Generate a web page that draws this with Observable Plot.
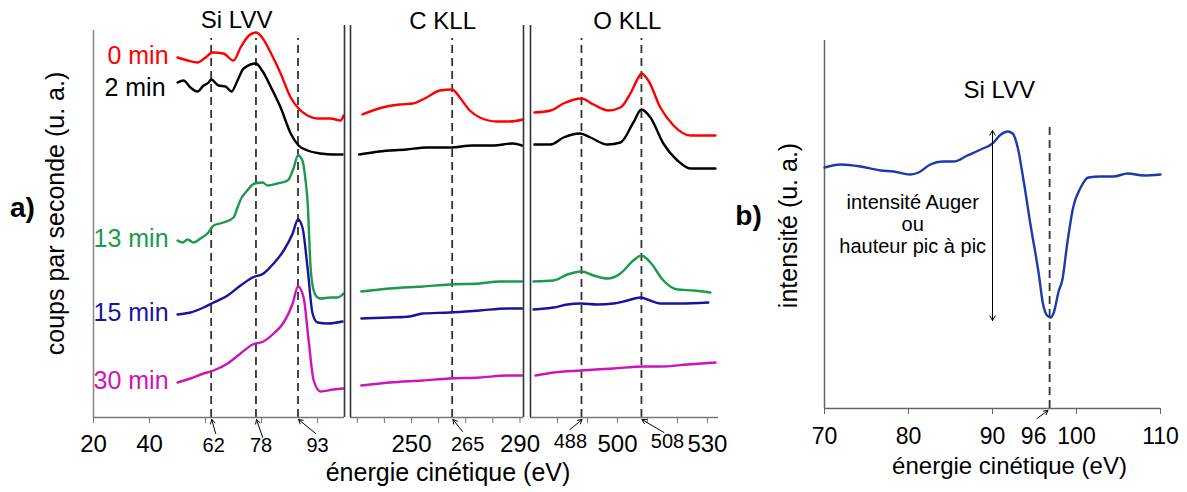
<!DOCTYPE html>
<html><head><meta charset="utf-8">
<script src="https://cdn.jsdelivr.net/npm/d3@7"></script>
<script src="https://cdn.jsdelivr.net/npm/@observablehq/plot@0.6"></script>
<style>
body{margin:0;background:#fff;}
#c{position:relative;width:1187px;height:492px;background:#fff;}
#c svg{position:absolute;left:0;top:0;}
</style></head><body><div id="c"></div>
<script>
// ---------- series ----------
const seriesNames = ["0 min", "2 min", "13 min", "15 min", "30 min"];
const seriesColors = ["#ff0000", "#000000", "#1a9a4a", "#15159e", "#cc14b8"];

// Si LVV region  [énergie (eV), coups (u. a.)]
const si0 = [[50,360],[53.6,357],[57.1,355],[60,360],[62.5,365],[66.4,364],[70,357],[72.5,370],[75.5,382],[78,385],[80.2,380],[83.4,364],[86.8,344],[90.4,320],[93.2,309],[96.4,302],[100,299],[104.6,299],[108.2,297],[109.3,302]];
const si2 = [[50,335],[52.1,337],[54.6,330],[57.1,326],[59.3,332],[61.1,335],[62,338],[64.6,332],[67.1,331],[69.3,326],[71.4,337],[73.6,349],[78,354],[80.2,347],[83.4,330],[86.8,310],[90.4,284],[93.2,272],[96.4,267],[101.1,264],[105.7,263],[108.9,263]];
const si13 = [[50,177],[51.8,175],[53.6,178],[55.7,175],[58.2,179],[60.7,184],[62.9,192],[66.4,195],[70,200],[71.4,210],[72.9,220],[74.3,225],[77.5,234],[80.4,235],[82.1,232],[85.7,234],[89.3,237],[91.4,249],[93,262],[94.6,257],[95.7,237],[96.4,217],[97.5,150],[98.6,127],[100,120],[101.1,119],[104.6,120],[107.1,120],[109.3,124]];
const si15 = [[50,103],[54.6,105],[59.3,110],[62.9,115],[67.9,122],[72.5,132],[76.8,140],[80.7,144],[84.3,154],[87.9,167],[91.1,184],[93,198],[94.6,190],[96.4,150],[98.2,104],[100,95],[103.6,94],[108.9,96]];
const si30 = [[50,35],[54.6,39],[59.3,44],[62.9,47],[67.9,54],[72.5,64],[76.8,73],[80.7,76],[84.3,84],[87.9,95],[91.1,114],[93,131],[95,120],[96.8,77],[98.6,37],[101.1,26],[105.7,28],[109.3,29]];

// C KLL region
const c0 = [[231.9,303],[239.3,310],[245.6,313],[250.4,314],[255.6,320],[260.4,327],[265,328],[267.8,320],[271.5,307],[275.2,300],[281.5,296],[286.3,296],[291.1,298]];
const c2 = [[230.7,263],[238.1,266],[248.1,268],[255.6,270],[264.1,270],[272.6,272],[280,272],[287.4,274],[290.7,272]];
const c13 = [[231.5,126],[241.9,129],[254.1,131],[264.1,133],[275.2,134],[282.6,136],[290.7,136]];
const c15 = [[231.5,99],[241.9,100],[249.3,101],[254.1,104],[264.1,105],[275.2,107],[285.2,109],[290.7,109]];
const c30 = [[231.5,32],[241.9,35],[254.1,37],[264.1,39],[275.2,40],[285.2,42],[290.7,42]];

// O KLL region
const o0 = [[472.3,305],[477.7,307],[482,314],[488,319],[492,313],[497,307],[501,310],[504.3,324],[507,340],[508,344],[510.3,337],[514.3,310],[518.7,292],[524.3,282],[528.3,282],[532.7,282]];
const o2 = [[472.3,273],[477.7,273],[482,280],[487.5,284],[491,280],[496.7,273],[501,275],[505.3,295],[508,308],[511,300],[515.3,274],[520,257],[524.3,249],[528.7,249],[532.7,249]];
const o13 = [[472,136],[478.7,137],[483.3,143],[488,146],[492,142],[496.7,139],[501,144],[505.3,157],[508,162],[511,155],[515.3,137],[520,128],[525.3,127],[531,125]];
const o15 = [[472,108],[478.7,110],[483.3,113],[487.7,114],[493.3,113],[498.7,114],[503.3,117],[507.7,120],[510,118],[514.3,114],[521,114],[530.3,115]];
const o30 = [[472.7,42],[478.7,45],[487.7,47],[498.7,49],[508.7,51],[514.3,51],[523.3,53],[532.7,55]];

// peak markers and tick labels
const siLines = [62, 78, 93];
const cLines = [265];
const oLines = [488, 508];
const siTicks = [20, 40, 60, 80, 100], siTickLabels = [20, 40];
const cTicks = [230, 240, 250, 260, 270, 280, 290], cTickLabels = [250, 290];
const oTicks = [480, 490, 500, 510, 520, 530], oTickLabels = [500, 530];

// panel b : dérivée Si LVV
const bSpectrum = [[70,241],[71.9,244],[74.3,242],[76.7,238],[78.2,237],[80.2,234],[81.2,236],[82.6,244],[84,247],[85.4,247],[87,253],[88.6,259],[90,265],[91,274],[91.8,277],[92.4,275],[93,261],[93.7,228],[94.5,185],[95.5,135],[96,105],[96.5,93],[96.9,91],[97.3,96],[97.9,118],[98.3,128],[98.9,165],[99.6,201],[100.5,221],[101.4,231],[102.9,232],[104.4,232],[106.1,235],[108,233],[110,234]];
const bTicks = [70, 80, 90, 100, 110];
const bLine = [96.8];
const bLineLabel = "96";
const bArrowX = 90;

const W = 1187, H = 492;
const FONT = "'Liberation Sans', Arial, sans-serif";
const baseStyle = {background: "transparent", fontFamily: FONT, overflow: "visible", color: "black"};
const container = document.getElementById("c");

function rowsOf(list) {
  return list.flatMap((s, i) => s.map(([x, y]) => ({x, y, name: seriesNames[i]})));
}

function segment({domain, left, right, series, lines, ticks, tickLabels, extra}) {
  return Plot.plot({
    width: W, height: H,
    marginLeft: left, marginRight: W - right, marginTop: 25, marginBottom: 75,
    x: {domain, label: null},
    y: {domain: [0, 392], axis: null},
    color: {domain: seriesNames, range: seriesColors},
    style: baseStyle,
    marks: [
      Plot.ruleX(lines, {y1: 0, y2: 379, stroke: "#333", strokeWidth: 1.8, strokeDasharray: "8,5"}),
      Plot.line(rowsOf(series), {x: "x", y: "y", z: "name", stroke: "name", strokeWidth: 2.4, curve: "monotone-x"}),
      Plot.ruleY([0], {stroke: "#777", strokeWidth: 1.5}),
      Plot.axisX({ticks, tickSize: 6, tickPadding: 11, fontSize: 24, stroke: "#777", label: null,
        tickFormat: d => tickLabels.includes(d) ? String(d) : ""}),
      ...extra
    ]
  });
}

const arrowStyle = {stroke: "black", strokeWidth: 1, headLength: 7};
const siSeries = [si0, si2, si13, si15, si30];
const labelRows = siSeries.map((s, i) => ({x: s[0][0], y: s[0][1], name: seriesNames[i]}));

// ---- segment Si ----
const siDomain = [20, 109.6];
container.appendChild(segment({
  domain: siDomain, left: 93, right: 344,
  series: siSeries, lines: siLines, ticks: siTicks, tickLabels: siTickLabels,
  extra: [
    Plot.ruleX([siDomain[0]], {stroke: "#888", strokeWidth: 1.5, y1: 0, y2: 387}),
    Plot.ruleX([siDomain[1]], {stroke: "#333", strokeWidth: 1.6}),
    Plot.text(labelRows, {filter: d => d.name !== "2 min", x: "x", y: "y", text: "name", fill: "name", textAnchor: "end", dx: -9, dy: -2, fontSize: 25}),
    Plot.text(labelRows, {filter: d => d.name === "2 min", x: "x", y: "y", text: "name", fill: "name", textAnchor: "end", dx: -12, dy: 5, fontSize: 25}),
    Plot.text(["Si LVV"], {x: 71.1, y: 390, fontSize: 24, lineAnchor: "bottom"}),
    Plot.text(siLines.map(String), {x: [62.9, 79.8, 100], frameAnchor: "bottom", lineAnchor: "top", dy: 20, fontSize: 20}),
    Plot.arrow(siLines, {x1: [63.6, 80.4, 99.3], y1: [-16, -20, -16], x2: d => d + 0.2, y2: -2, ...arrowStyle}),
    Plot.text(["coups par seconde (u. a.)"], {frameAnchor: "left", textAnchor: "middle", rotate: -90, dx: -38, dy: -8, fontSize: 25}),
    Plot.text(["a)"], {frameAnchor: "left", textAnchor: "middle", dx: -71, dy: -13, fontSize: 28, fontWeight: "bold"})
  ]
}));

// ---- segment C ----
const cDomain = [227.5, 291.3];
container.appendChild(segment({
  domain: cDomain, left: 350, right: 523,
  series: [c0, c2, c13, c15, c30], lines: cLines, ticks: cTicks, tickLabels: cTickLabels,
  extra: [
    Plot.ruleX(cDomain, {stroke: "#333", strokeWidth: 1.6}),
    Plot.text(["C KLL"], {x: 261.5, y: 389, fontSize: 24, lineAnchor: "bottom"}),
    Plot.text(cLines.map(String), {x: [270.7], frameAnchor: "bottom", lineAnchor: "top", dy: 19, fontSize: 20}),
    Plot.arrow(cLines, {x1: [268.8], y1: [-14], x2: d => d + 0.3, y2: -2, ...arrowStyle}),
    Plot.text(["énergie cinétique (eV)"], {frameAnchor: "bottom", dx: 11, dy: 46, lineAnchor: "top", fontSize: 25})
  ]
}));

// ---- segment O ----
const oDomain = [471, 533.7];
container.appendChild(segment({
  domain: oDomain, left: 530, right: 718,
  series: [o0, o2, o13, o15, o30], lines: oLines, ticks: oTicks, tickLabels: oTickLabels,
  extra: [
    Plot.ruleX([oDomain[0]], {stroke: "#333", strokeWidth: 1.6}),
    Plot.text(["O KLL"], {x: 503.3, y: 389, fontSize: 24, lineAnchor: "bottom"}),
    Plot.text(oLines.map(String), {x: [484.3, 516.7], frameAnchor: "bottom", lineAnchor: "top", dy: 16, fontSize: 20}),
    Plot.arrow(oLines, {x1: [484.2, 515.5], y1: [-12, -15], x2: d => d + 0.2, y2: -2, ...arrowStyle})
  ]
}));

// ---- panel b ----
const bDomain = [70, 110];
container.appendChild(Plot.plot({
  width: W, height: H,
  marginLeft: 824, marginRight: W - 1160, marginTop: 40, marginBottom: 84,
  x: {domain: bDomain, label: null},
  y: {domain: [0, 368], axis: null},
  style: baseStyle,
  marks: [
    Plot.ruleX(bLine, {y1: 0, y2: 281, stroke: "#333", strokeWidth: 1.8, strokeDasharray: "8,5"}),
    Plot.ruleX([bDomain[0]], {stroke: "#666", strokeWidth: 1.5}),
    Plot.ruleY([0], {stroke: "#666", strokeWidth: 1.5}),
    Plot.axisX({ticks: bTicks, tickSize: 6, tickPadding: 13, fontSize: 23, stroke: "#666", label: null}),
    Plot.line(bSpectrum, {x: d => d[0], y: d => d[1], stroke: "#1f3aa8", strokeWidth: 2.4, curve: "monotone-x"}),
    Plot.text([bLineLabel], {x: 94.9, frameAnchor: "bottom", lineAnchor: "top", dy: 19, fontSize: 23}),
    Plot.arrow(bLine, {x1: 95.3, y1: -10, x2: d => d - 0.2, y2: -2, ...arrowStyle}),
    Plot.arrow([278, 88], {x1: bArrowX, x2: bArrowX, y1: 183, y2: d => d, stroke: "black", strokeWidth: 1, headLength: 8}),
    Plot.text(["Si LVV"], {x: 90.8, y: 311, fontSize: 24, lineAnchor: "bottom"}),
    Plot.text(["intensité Auger\nou\nhauteur pic à pic"], {x: 80.5, y: 185, fontSize: 20, lineHeight: 1.1}),
    Plot.text(["intensité (u. a.)"], {frameAnchor: "left", textAnchor: "middle", rotate: -90, dx: -36, dy: 1, fontSize: 25}),
    Plot.text(["b)"], {frameAnchor: "left", textAnchor: "middle", dx: -76, dy: -8, fontSize: 28, fontWeight: "bold"}),
    Plot.text(["énergie cinétique (eV)"], {frameAnchor: "bottom", dx: 17, dy: 48, lineAnchor: "top", fontSize: 24})
  ]
}));
</script>
</body></html>
